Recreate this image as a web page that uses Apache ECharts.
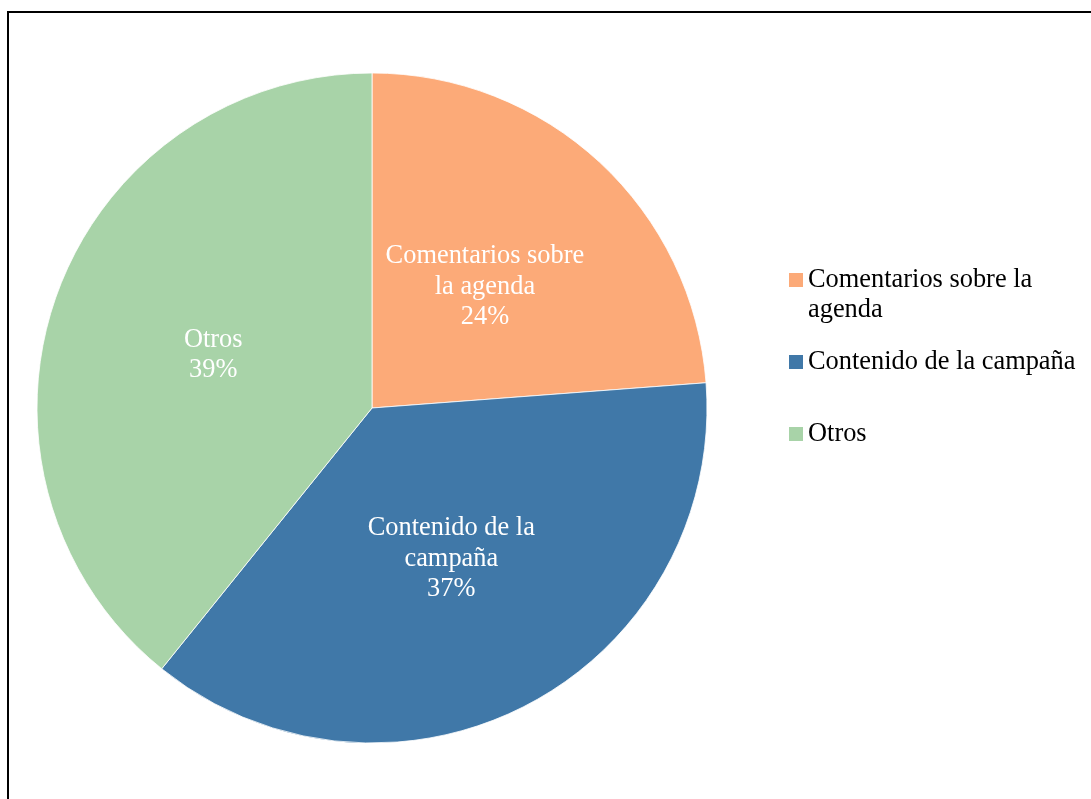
<!DOCTYPE html>
<html>
<head>
<meta charset="utf-8">
<script src="https://cdn.jsdelivr.net/npm/echarts@6/dist/echarts.min.js"></script>
<style>
html,body{margin:0;padding:0;background:#fff;}
#chart{width:1091px;height:799px;}
</style>
</head>
<body>
<div id="chart"></div>
<script>
const categories = ["Comentarios sobre la agenda", "Contenido de la campaña", "Otros"];
const values = [23.8, 37.0, 39.2];
const labelTexts = ["Comentarios sobre\nla agenda", "Contenido de la\ncampaña", "Otros"];
const legendTexts = ["\nComentarios sobre la\nagenda", "Contenido de la campaña", "Otros"];
const colors = ["#FCAA78", "#4078A8", "#A8D3A8"];

const font = "Liberation Serif, Times New Roman, serif";
const fs = 26.4;
const chart = echarts.init(document.getElementById('chart'), null, {renderer: 'canvas'});

const legendTops = [235, 347, 419];
const legends = categories.map((c, i) => ({
  data: [c],
  left: 789,
  top: legendTops[i],
  orient: 'vertical',
  itemWidth: 14,
  itemHeight: 14,
  itemGap: 0,
  padding: 0,
  icon: 'rect',
  selectedMode: false,
  itemStyle: {borderWidth: 0},
  formatter: () => legendTexts[i],
  textStyle: {
    fontFamily: font,
    fontSize: fs,
    color: '#000',
    lineHeight: 30
  }
}));

const labelOffsets = [[-3, 4], [0, 0], [2, 4]];

chart.setOption({
  animation: false,
  color: colors,
  graphic: [{
    type: 'rect',
    shape: {x: 8, y: 12, width: 3000, height: 3000},
    style: {fill: 'none', stroke: '#000', lineWidth: 2},
    silent: true
  }],
  legend: legends,
  series: [{
    type: 'pie',
    center: [372, 408],
    radius: [0, 335],
    startAngle: 90,
    clockwise: true,
    percentPrecision: 0,
    emphasis: {disabled: true},
    itemStyle: {borderColor: '#fff', borderWidth: 0.8},
    label: {
      show: true,
      position: 'inside',
      fontFamily: font,
      fontSize: fs,
      lineHeight: 30.5,
      color: '#fff',
      align: 'center',
      formatter: (p) => labelTexts[p.dataIndex] + '\n' + Math.round(p.percent) + '%'
    },
    labelLine: {show: false},
    data: categories.map((c, i) => ({name: c, value: values[i], label: {offset: labelOffsets[i]}}))
  }]
});
</script>
</body>
</html>
